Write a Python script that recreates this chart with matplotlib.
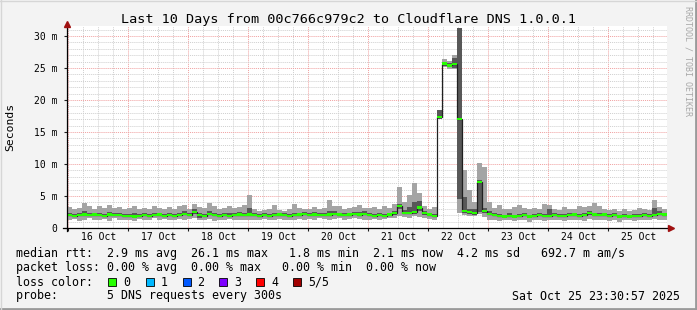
import numpy as np
import matplotlib.pyplot as plt
from matplotlib.lines import Line2D
from matplotlib.patches import Rectangle

# ---- data: 2 hour bins, starting Oct 15 23:31, values in ms ----
median = [2.0, 1.9, 2.0, 2.1, 2.0, 2.1, 2.0, 1.9, 2.1, 2.0, 2.0, 1.9,
          1.9, 1.8, 1.9, 2.0, 1.9, 2.0, 2.1, 1.9, 2.0, 1.9, 2.0, 2.2,
          2.0, 2.5, 2.0, 1.9, 2.2, 2.0, 1.9, 2.0, 1.9, 2.0, 2.1, 2.0,
          2.1, 2.0, 1.9, 2.0, 1.9, 2.0, 2.1, 2.0, 1.9, 2.0, 2.1, 2.2,
          2.0, 2.1, 2.0, 2.0, 2.1, 2.2, 2.1, 2.0, 2.1, 2.2, 2.1, 2.2,
          2.0, 1.9, 2.0, 1.9, 2.1, 2.3, 3.4, 2.4, 2.4, 2.5, 3.2, 2.3, 2.1, 1.9,
          17.3, 25.7, 25.4, 25.6, 17.0, 2.6, 2.5, 2.4, 7.2, 2.7,
          2.2, 2.0, 1.9, 1.8, 1.9, 1.8, 1.9, 2.0, 1.8, 1.9, 2.0, 1.9,
          1.9, 2.0, 1.9, 1.9, 2.0, 2.1, 1.9, 2.0, 2.3, 2.1, 2.0, 2.1,
          1.9, 2.0, 1.8, 1.9, 1.8, 1.9, 1.9, 2.0, 1.9, 2.0, 2.2, 2.1]

smoke_hi = [3.3, 3.0, 3.2, 3.9, 3.4, 3.0, 3.5, 3.2, 3.6, 3.1, 3.3, 3.0,
            3.1, 3.4, 2.9, 3.2, 3.0, 3.5, 3.2, 3.0, 3.3, 2.9, 3.4, 3.6,
            3.0, 3.8, 3.3, 3.1, 3.9, 3.4, 3.0, 3.2, 3.5, 3.1, 3.3, 3.6,
            5.1, 3.0, 2.7, 2.8, 2.9, 3.6, 2.8, 2.7, 3.0, 3.7, 3.1, 2.9,
            3.0, 3.3, 2.9, 3.1, 4.4, 3.5, 3.4, 3.0, 3.2, 3.3, 3.6, 3.2,
            3.1, 3.3, 2.9, 3.4, 3.2, 3.8, 6.4, 4.1, 5.2, 7.0, 5.5, 3.4, 3.0, 3.3,
            18.5, 26.4, 26.1, 27.0, 31.3, 9.0, 5.9, 4.0, 10.2, 9.5,
            4.0, 3.2, 3.6, 2.9, 3.0, 3.3, 3.6, 3.1, 2.9, 3.2, 3.0, 3.8,
            3.6, 3.0, 2.8, 3.3, 3.0, 2.9, 3.4, 3.3, 3.5, 3.9, 3.4, 3.0,
            2.8, 3.0, 2.7, 2.9, 2.6, 2.8, 3.1, 2.9, 2.8, 4.4, 3.3, 3.0]

smoke_lo = [1.2, 1.4, 1.1, 1.3, 1.5, 1.2, 1.3, 1.4, 1.1, 1.5, 1.3, 1.2,
            1.3, 1.1, 1.4, 1.2, 1.3, 1.5, 1.2, 1.4, 1.3, 1.2, 1.4, 1.3,
            1.4, 1.5, 1.2, 1.3, 1.4, 1.1, 1.3, 1.2, 1.4, 1.3, 1.2, 1.3,
            1.3, 1.2, 1.3, 1.4, 1.2, 1.3, 1.4, 1.3, 1.2, 1.3, 1.4, 1.2,
            1.4, 1.3, 1.5, 1.4, 1.3, 1.4, 1.5, 1.3, 1.4, 1.5, 1.4, 1.3,
            1.3, 1.4, 1.2, 1.4, 1.5, 1.6, 1.8, 1.7, 1.6, 1.8, 1.7, 1.5, 1.4, 1.3,
            17.0, 25.1, 24.9, 24.8, 2.4, 2.0, 1.9, 1.8, 2.2, 1.7,
            1.3, 1.2, 1.1, 1.3, 1.2, 1.1, 1.3, 1.2, 1.0, 1.2, 1.3, 1.1,
            1.2, 1.3, 1.2, 1.1, 1.3, 1.2, 1.3, 1.1, 1.4, 1.2, 1.3, 1.2,
            1.1, 1.2, 1.0, 1.3, 1.2, 1.1, 1.2, 1.3, 1.2, 1.4, 1.3, 1.3]

# inner smoke (2nd / 4th ping)
inner_lo = [1.8, 1.7, 1.8, 1.9, 1.8, 1.9, 1.8, 1.7, 1.9, 1.8, 1.8, 1.7,
            1.7, 1.6, 1.7, 1.8, 1.7, 1.8, 1.9, 1.7, 1.8, 1.7, 1.8, 2.0,
            1.8, 2.2, 1.6, 1.7, 2.0, 1.8, 1.7, 1.8, 1.7, 1.8, 1.9, 1.8,
            1.9, 1.8, 1.7, 1.8, 1.7, 1.8, 1.9, 1.8, 1.7, 1.8, 1.9, 2.0,
            1.8, 1.9, 1.8, 1.8, 1.9, 2.0, 1.9, 1.8, 1.9, 2.0, 1.9, 2.0,
            1.8, 1.7, 1.8, 1.7, 1.9, 2.1, 2.9, 2.2, 2.2, 2.2, 2.7, 2.1, 1.9, 1.7,
            17.1, 25.3, 25.1, 25.0, 4.5, 2.3, 2.2, 2.1, 2.5, 2.3,
            2.0, 1.8, 1.7, 1.6, 1.7, 1.6, 1.7, 1.8, 1.6, 1.7, 1.8, 1.7,
            1.7, 1.8, 1.7, 1.7, 1.8, 1.9, 1.7, 1.8, 2.1, 1.9, 1.8, 1.9,
            1.7, 1.8, 1.6, 1.7, 1.6, 1.7, 1.7, 1.8, 1.7, 1.8, 2.0, 1.9]

inner_hi = [2.3, 2.2, 2.4, 2.6, 2.3, 2.4, 2.3, 2.2, 2.5, 2.3, 2.4, 2.2,
            2.2, 2.4, 2.2, 2.3, 2.2, 2.4, 2.4, 2.2, 2.4, 2.2, 2.3, 2.6,
            2.3, 2.9, 2.3, 2.2, 2.6, 2.3, 2.2, 2.4, 2.3, 2.3, 2.5, 2.4,
            3.1, 2.3, 2.2, 2.3, 2.2, 2.4, 2.4, 2.3, 2.2, 2.4, 2.4, 2.5,
            2.3, 2.5, 2.3, 2.3, 2.6, 2.6, 2.4, 2.3, 2.4, 2.5, 2.5, 2.6,
            2.3, 2.2, 2.3, 2.2, 2.4, 2.7, 3.8, 2.8, 3.3, 4.0, 4.2, 2.7, 2.4, 2.2,
            18.4, 26.0, 25.8, 26.6, 31.3, 4.8, 3.0, 2.9, 7.5, 3.2,
            2.6, 2.3, 2.2, 2.1, 2.3, 2.1, 2.2, 2.4, 2.1, 2.2, 2.3, 2.2,
            3.0, 2.3, 2.2, 2.2, 2.3, 2.4, 2.2, 2.4, 2.7, 2.4, 2.3, 2.4,
            2.2, 2.3, 2.1, 2.2, 2.1, 2.2, 2.2, 2.3, 2.2, 3.1, 2.6, 2.4]

day_labels = ["16 Oct", "17 Oct", "18 Oct", "19 Oct", "20 Oct",
              "21 Oct", "22 Oct", "23 Oct", "24 Oct", "25 Oct"]
loss_labels = ["0", "1", "2", "3", "4", "5/5"]
loss_colors = ["#26ff00", "#00b8ff", "#0059ff", "#7e00ff", "#ff0000", "#a10000"]

W, H = 697, 310
def fx(x): return x / W
def fy(y): return 1 - y / H

mono = "DejaVu Sans Mono"
fig = plt.figure(figsize=(W / 100, H / 100), dpi=100, facecolor="#f3f3f3")

# plot area
ax = fig.add_axes([fx(67), fy(228), 600 / W, (228 - 26.4) / H])
ax.set_facecolor("white")
ax.set_xlim(0, 240)
ax.set_ylim(0, 31.5)
for s in ax.spines.values():
    s.set_visible(False)

# grid: midnight offset (start is 23:31)
off = 29 / 60
for h in np.arange(off, 240, 6):
    is_day = abs((h - off) % 24) < 1e-6
    ax.axvline(h, color="#f0a0a0" if is_day else "#cfcfcf", lw=0.7,
               ls=(0, (1, 1)), zorder=0)
for v in range(1, 32):
    ax.axhline(v, color="#f0a0a0" if v % 5 == 0 else "#cfcfcf", lw=0.7,
               ls=(0, (1, 1)), zorder=0)

edges = np.arange(len(median) + 1) * 2.0
med = np.array(median)
ax.stairs(smoke_hi, edges, baseline=smoke_lo, fill=True, color="#a4a4a4", lw=0, zorder=2)
ax.stairs(inner_hi, edges, baseline=inner_lo, fill=True, color="#585858", lw=0, zorder=3)
ax.stairs(med, edges, baseline=None, color="#202020", lw=0.9, zorder=4)
ax.stairs(med + 0.17, edges, baseline=med - 0.17, fill=True, color="#26ff00", lw=0, zorder=5)

# ticks
ax.set_yticks(range(0, 31, 5))
ax.set_yticklabels(["0"] + ["%d m" % v for v in range(5, 31, 5)], family=mono, fontsize=7)
ax.set_xticks(np.arange(off, 240, 24))
ax.set_xticklabels([])
ax.set_xticks(np.arange(off + 12, 240, 24), minor=True)
ax.set_xticklabels(day_labels, minor=True, family=mono, fontsize=7)
ax.tick_params(axis="y", length=2, width=0.8, pad=5, color="#202020")
ax.tick_params(axis="x", which="major", length=2, width=0.8, direction="out", color="#202020")
ax.tick_params(axis="x", which="minor", length=0, pad=3)

# axes with arrows
fig.add_artist(Line2D([fx(63), fx(670)], [fy(228), fy(228)], color="black", lw=0.9))
fig.add_artist(Line2D([fx(67), fx(67)], [fy(231), fy(26)], color="black", lw=0.9))
fig.add_artist(Line2D([fx(671)], [fy(228)], marker=">", color="#a01010", markersize=4, lw=0))
fig.add_artist(Line2D([fx(67)], [fy(23.5)], marker="^", color="#a01010", markersize=4, lw=0))

# texts
fig.text(0.5, fy(19), "Last 10 Days from 00c766c979c2 to Cloudflare DNS 1.0.0.1",
         ha="center", va="center", family=mono, fontsize=9.7)
fig.text(fx(10), fy(127), "Seconds", rotation=90, ha="center", va="center",
         family=mono, fontsize=8.2)
fig.text(fx(688), fy(6), "RRDTOOL / TOBI OETIKER", rotation=-90, ha="center", va="top",
         family=mono, fontsize=6, color="#a8a8a8")

fs = 8.33
fig.text(fx(16), fy(254), "median rtt:  2.9 ms avg  26.1 ms max   1.8 ms min  2.1 ms now  4.2 ms sd   692.7 m am/s",
         ha="left", va="center", family=mono, fontsize=fs)
fig.text(fx(16), fy(268), "packet loss: 0.00 % avg  0.00 % max   0.00 % min  0.00 % now",
         ha="left", va="center", family=mono, fontsize=fs)
fig.text(fx(16), fy(282), "loss color:", ha="left", va="center", family=mono, fontsize=fs)
box_x = [108, 145.5, 182.5, 219, 256, 293]
for bx, lab, col in zip(box_x, loss_labels, loss_colors):
    fig.add_artist(Rectangle((fx(bx), fy(286)), 8 / W, 8 / H, facecolor=col,
                             edgecolor="black", lw=0.6))
    fig.text(fx(bx + 15), fy(282), lab, ha="left", va="center", family=mono, fontsize=fs)
fig.text(fx(16), fy(296), "probe:       5 DNS requests every 300s",
         ha="left", va="center", family=mono, fontsize=fs)
fig.text(fx(680), fy(296), "Sat Oct 25 23:30:57 2025", ha="right", va="center",
         family=mono, fontsize=fs)

# frame
fig.add_artist(Line2D([0, 1], [fy(309), fy(309)], color="#9a9a9a", lw=2))
fig.add_artist(Line2D([fx(696), fx(696)], [0, 1], color="#9a9a9a", lw=2))
fig.add_artist(Line2D([0, 1], [fy(0.5), fy(0.5)], color="#d6d6d6", lw=1))
fig.add_artist(Line2D([fx(0.5), fx(0.5)], [0, 1], color="#d6d6d6", lw=1))

fig.savefig("out.png", dpi=100, facecolor=fig.get_facecolor())
